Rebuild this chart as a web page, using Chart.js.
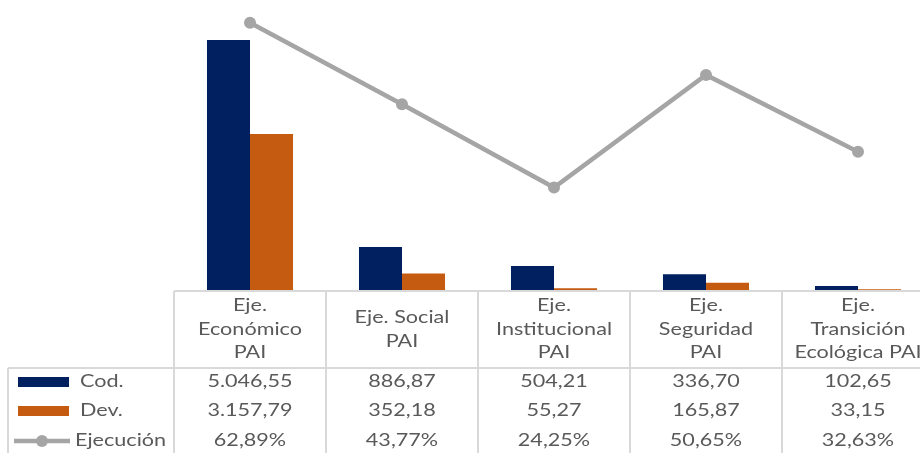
<!DOCTYPE html>
<html>
<head>
<meta charset="utf-8">
<script src="https://cdn.jsdelivr.net/npm/chart.js@4"></script>
<style>
  body { margin: 0; overflow: hidden; background: #fff; }
  #caja { width: 940px; height: 453px; }
</style>
</head>
<body>
<div id="caja"><canvas id="grafico" width="940" height="453"></canvas></div>
<script>
// datos
const categorias = [
    ['Eje.', 'Económico', 'PAI'],
    ['Eje. Social', 'PAI'],
    ['Eje.', 'Institucional', 'PAI'],
    ['Eje.', 'Seguridad', 'PAI'],
    ['Eje.', 'Transición', 'Ecológica PAI']
];
const cod = [5046.55, 886.87, 504.21, 336.70, 102.65];
const dev = [3157.79, 352.18, 55.27, 165.87, 33.15];
const ejecucion = [62.89, 43.77, 24.25, 50.65, 32.63];

const AZUL = '#002060';
const NARANJA = '#C55A11';
const GRIS = '#A5A5A5';
const TEXTO = '#595959';
const LINEA_TABLA = '#D9D9D9';
const FUENTE = '17px Lato, "Liberation Sans", sans-serif';
const ESTIRAR = 1.27; // el texto del original esta ensanchado

// 5.046,55
function formatoNum(v) {
    const partes = v.toFixed(2).split('.');
    const entero = partes[0].replace(/\B(?=(\d{3})+(?!\d))/g, '.');
    return entero + ',' + partes[1];
}

function texto(ctx, t, x, y, alin) {
    ctx.save();
    ctx.translate(x, y);
    ctx.scale(ESTIRAR, 1);
    ctx.textAlign = alin;
    ctx.fillText(t, 0, 0);
    ctx.restore();
}

const tablaDatos = {
    id: 'tablaDatos',
    afterDraw(chart) {
        const ctx = chart.ctx;
        const area = chart.chartArea;
        const x = chart.scales.x;
        const ancho = (area.right - area.left) / categorias.length;
        const yBase = area.bottom;
        const yCabecera = yBase + 77;
        const yFin = chart.height;

        ctx.save();
        ctx.strokeStyle = LINEA_TABLA;
        ctx.lineWidth = 2;
        ctx.beginPath();
        // eje
        ctx.moveTo(area.left, yBase);
        ctx.lineTo(area.right, yBase);
        // separacion cabecera
        ctx.moveTo(8, yCabecera);
        ctx.lineTo(area.right, yCabecera);
        // columnas
        for (let i = 0; i <= categorias.length; i++) {
            const xl = area.left + i * ancho;
            ctx.moveTo(xl, yBase);
            ctx.lineTo(xl, yFin);
        }
        ctx.moveTo(8, yCabecera);
        ctx.lineTo(8, yFin);
        ctx.stroke();

        ctx.fillStyle = TEXTO;
        ctx.font = FUENTE;
        ctx.textBaseline = 'middle';

        // cabeceras
        const centroCab = (yBase + yCabecera) / 2;
        chart.data.labels.forEach((lab, i) => {
            const cx = x.getPixelForValue(i);
            const lineas = Array.isArray(lab) ? lab : [lab];
            const alto = 23.5;
            const y0 = centroCab - (lineas.length - 1) * alto / 2;
            lineas.forEach((t, j) => texto(ctx, t, cx, y0 + j * alto, 'center'));
        });

        // filas
        const filas = [
            { nombre: 'Cod.', valores: cod.map(formatoNum), tipo: 'barra', color: AZUL },
            { nombre: 'Dev.', valores: dev.map(formatoNum), tipo: 'barra', color: NARANJA },
            { nombre: 'Ejecución', valores: ejecucion.map(v => formatoNum(v) + '%'), tipo: 'linea', color: GRIS }
        ];
        const yFilas = [382, 411, 441];
        filas.forEach((f, k) => {
            const yf = yFilas[k];
            if (f.tipo === 'barra') {
                ctx.fillStyle = f.color;
                ctx.fillRect(18, yf - 5, 51, 10);
            } else {
                ctx.strokeStyle = f.color;
                ctx.lineWidth = 4.5;
                ctx.beginPath();
                ctx.moveTo(14, yf);
                ctx.lineTo(70, yf);
                ctx.stroke();
                ctx.fillStyle = f.color;
                ctx.beginPath();
                ctx.arc(42, yf, 6, 0, Math.PI * 2);
                ctx.fill();
            }
            ctx.fillStyle = TEXTO;
            texto(ctx, f.nombre, f.tipo === 'barra' ? 80 : 75, yf, 'left');
            f.valores.forEach((t, i) => texto(ctx, t, x.getPixelForValue(i), yf, 'center'));
        });
        ctx.restore();
    }
};

const grf = document.getElementById('grafico').getContext('2d');
new Chart(grf, {
    type: 'bar',
    data: {
        labels: categorias,
        datasets: [
            {
                type: 'line',
                label: 'Ejecución',
                data: ejecucion,
                yAxisID: 'y1',
                borderColor: GRIS,
                backgroundColor: GRIS,
                borderWidth: 4.5,
                pointRadius: 6,
                pointBackgroundColor: GRIS,
                pointBorderWidth: 0,
                order: 0,
                clip: false
            },
            {
                label: 'Cod.',
                data: cod,
                backgroundColor: AZUL,
                categoryPercentage: 0.566,
                barPercentage: 1,
                order: 1
            },
            {
                label: 'Dev.',
                data: dev,
                backgroundColor: NARANJA,
                categoryPercentage: 0.566,
                barPercentage: 1,
                order: 1
            }
        ]
    },
    options: {
        responsive: false,
        animation: false,
        layout: { autoPadding: false, padding: { left: 174, right: 6, top: 0, bottom: 162 } },
        plugins: {
            legend: { display: false },
            tooltip: { enabled: false }
        },
        scales: {
            x: { display: false },
            y: { display: false, min: 0, max: 5850 },
            y1: { display: false, min: 0, max: 68.2, position: 'right' }
        }
    },
    plugins: [tablaDatos]
});
</script>
</body>
</html>
